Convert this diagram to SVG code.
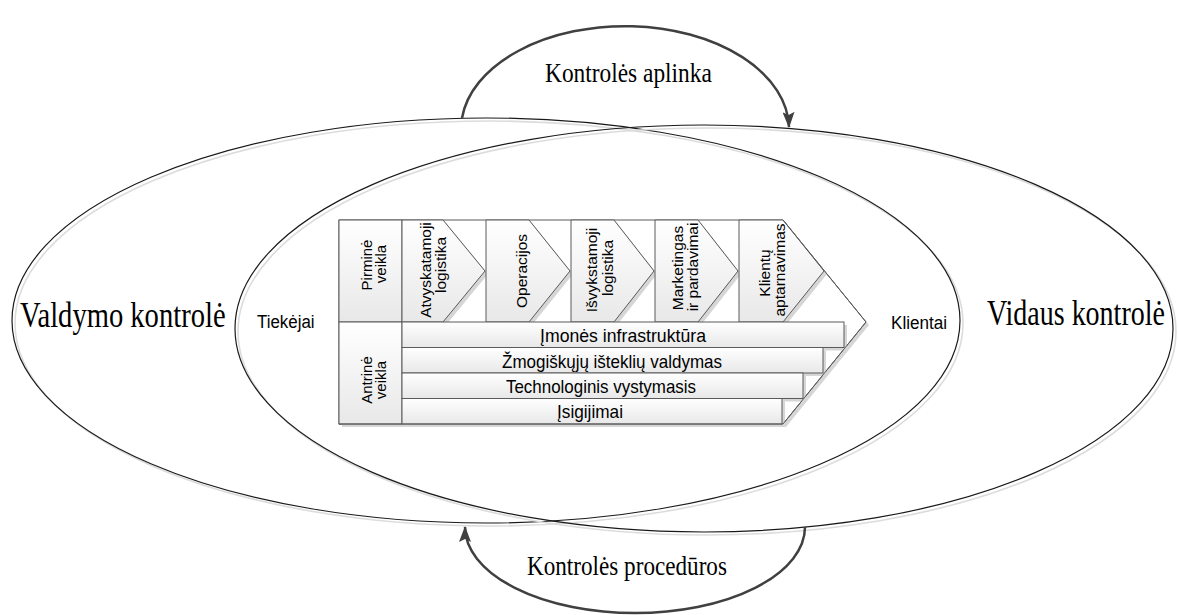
<svg xmlns="http://www.w3.org/2000/svg" width="1178" height="615" viewBox="0 0 1178 615">
  <defs>
    <linearGradient id="fillGrad" x1="0" y1="0" x2="0" y2="1">
      <stop offset="0" stop-color="#ffffff"/>
      <stop offset="1" stop-color="#e8e8e8"/>
    </linearGradient>
    <marker id="arrow" markerUnits="userSpaceOnUse" viewBox="0 0 16 12" markerWidth="16" markerHeight="12" refX="15" refY="6" orient="auto">
      <path d="M0,0 L16,6 L0,12 L3,6 z" fill="#404040"/>
    </marker>
    <style>
      .ring{fill:none;stroke:#1a1a1a;stroke-width:1.2}
      .ring-shadow{fill:none;stroke:#dcdcdc;stroke-width:1.6}
      .shape{fill:url(#fillGrad);stroke:#5a5a5a;stroke-width:1}
      .frame{fill:#ffffff;stroke:#5a5a5a;stroke-width:1}
      .outline{fill:none;stroke:#5a5a5a;stroke-width:1}
      .shadow{fill:#d6d6d6;stroke:none}
      .flow{fill:none;stroke:#404040;stroke-width:2.5}
      .serif{font-family:"Liberation Serif","Times New Roman",serif;fill:#000}
      .sans{font-family:"Liberation Sans",Arial,sans-serif;fill:#000}
      .big{font-size:35px}
      .mid{font-size:28px}
      .bar{font-size:19px}
      .rot{font-size:15.5px;text-anchor:middle}
      .rot-s{font-size:15px;text-anchor:middle}
    </style>
  </defs>

  <!-- Two overlapping control areas -->
  <g id="valdymo-kontrole">
    <ellipse class="ring-shadow" cx="489" cy="323.5" rx="474" ry="202.5"/>
    <ellipse class="ring" cx="486" cy="320.5" rx="474" ry="202.5"/>
    <text class="serif big" transform="translate(20,327) scale(0.817,1)">Valdymo kontrolė</text>
  </g>
  <g id="vidaus-kontrole">
    <ellipse class="ring-shadow" cx="707" cy="331.5" rx="469" ry="203.5"/>
    <ellipse class="ring" cx="704" cy="328.5" rx="469" ry="203.5"/>
    <text class="serif big" transform="translate(987,325) scale(0.8,1)">Vidaus kontrolė</text>
  </g>

  <!-- Connectors between the two areas -->
  <g id="connectors">
    <path class="flow" d="M462,118 A164,103 0 0,1 789,127" marker-end="url(#arrow)"/>
    <path class="flow" d="M805,527 A170,86 0 0,1 465,527" marker-end="url(#arrow)"/>
  </g>
  <g id="label-aplinka">
    <text class="serif mid" transform="translate(545,82) scale(0.835,1)">Kontrolės aplinka</text>
  </g>
  <g id="label-proceduros">
    <text class="serif mid" transform="translate(527,575) scale(0.827,1)">Kontrolės procedūros</text>
  </g>

  <g id="tiekejai">
    <text class="sans bar" transform="translate(257,328) scale(0.89,1)">Tiekėjai</text>
  </g>
  <g id="klientai">
    <text class="sans bar" transform="translate(891,329) scale(0.9,1)">Klientai</text>
  </g>

  <!-- Value chain -->
  <g id="value-chain">
    <polygon class="shadow" points="342,223 786,223 869,325 786,427 342,427"/>
    <polygon class="frame" points="339,220 783,220 866,322 783,424 339,424"/>
  </g>

  <g id="pirmine-veikla">
    <rect class="shadow" x="342" y="223" width="63" height="102"/>
    <rect class="shape" x="339" y="220" width="63" height="102"/>
    <text class="sans rot-s" transform="translate(372,265) rotate(-90)">Pirminė</text>
    <text class="sans rot-s" transform="translate(386,264) rotate(-90)">veikla</text>
  </g>
  <g id="antrine-veikla">
    <rect class="shadow" x="342" y="325" width="63" height="102"/>
    <rect class="shape" x="339" y="322" width="63" height="102"/>
    <text class="sans rot-s" transform="translate(372,380) rotate(-90)">Antrinė</text>
    <text class="sans rot-s" transform="translate(386,380) rotate(-90)">veikla</text>
  </g>

  <g id="atvykstamoji-logistika">
    <polygon class="shadow" points="405,223 446,223 488,274 446,325 405,325"/>
    <polygon class="shape" points="402,220 443,220 485,271 443,322 402,322"/>
    <text class="sans rot" transform="translate(431,270) rotate(-90)">Atvyskatamoji</text>
    <text class="sans rot" transform="translate(446,265) rotate(-90)">logistika</text>
  </g>
  <g id="operacijos">
    <polygon class="shadow" points="489,223 532,223 573,274 532,325 489,325"/>
    <polygon class="shape" points="486,220 529,220 570,271 529,322 486,322"/>
    <text class="sans rot" transform="translate(527,271) rotate(-90)">Operacijos</text>
  </g>
  <g id="isvykstamoji-logistika">
    <polygon class="shadow" points="574,223 617,223 657,274 617,325 574,325"/>
    <polygon class="shape" points="571,220 614,220 654,271 614,322 571,322"/>
    <text class="sans rot" transform="translate(597,270) rotate(-90)">Išvykstamoji</text>
    <text class="sans rot" transform="translate(613,268) rotate(-90)">logistika</text>
  </g>
  <g id="marketingas">
    <polygon class="shadow" points="658,223 701,223 741,274 701,325 658,325"/>
    <polygon class="shape" points="655,220 698,220 738,271 698,322 655,322"/>
    <text class="sans rot" transform="translate(683,268) rotate(-90)">Marketingas</text>
    <text class="sans rot" transform="translate(698,267) rotate(-90)">ir pardavimai</text>
  </g>
  <g id="klientu-aptarnavimas">
    <polygon class="shadow" points="742,223 786,223 827,274 786,325 742,325"/>
    <polygon class="shape" points="739,220 783,220 824,271 783,322 739,322"/>
    <text class="sans rot" transform="translate(770,273) rotate(-90)">Klientų</text>
    <text class="sans rot" transform="translate(785,270) rotate(-90)">aptarnavimas</text>
  </g>

  <g id="imones-infrastruktura">
    <rect class="shadow" x="405" y="325" width="442" height="25.5"/>
    <rect class="shape" x="402" y="322" width="442" height="25.5"/>
    <text class="sans bar" x="540" y="342" textLength="166" lengthAdjust="spacingAndGlyphs">Įmonės infrastruktūra</text>
  </g>
  <g id="zmogiskuju-istekliu-valdymas">
    <rect class="shadow" x="405" y="350.5" width="421" height="25.5"/>
    <rect class="shape" x="402" y="347.5" width="421" height="25.5"/>
    <text class="sans bar" x="502" y="367.5" textLength="220" lengthAdjust="spacingAndGlyphs">Žmogiškųjų išteklių valdymas</text>
  </g>
  <g id="technologinis-vystymasis">
    <rect class="shadow" x="405" y="376" width="401" height="25.5"/>
    <rect class="shape" x="402" y="373" width="401" height="25.5"/>
    <text class="sans bar" x="506" y="393" textLength="190" lengthAdjust="spacingAndGlyphs">Technologinis vystymasis</text>
  </g>
  <g id="isigijimai">
    <rect class="shadow" x="405" y="401.5" width="380" height="25.5"/>
    <rect class="shape" x="402" y="398.5" width="380" height="25.5"/>
    <text class="sans bar" x="557" y="418" textLength="66" lengthAdjust="spacingAndGlyphs">Įsigijimai</text>
  </g>

  <!-- outer chevron edge redrawn above the inner shadows -->
  <g id="value-chain-edge">
    <polyline class="outline" points="783,220 866,322 783,424 339,424"/>
  </g>
</svg>
